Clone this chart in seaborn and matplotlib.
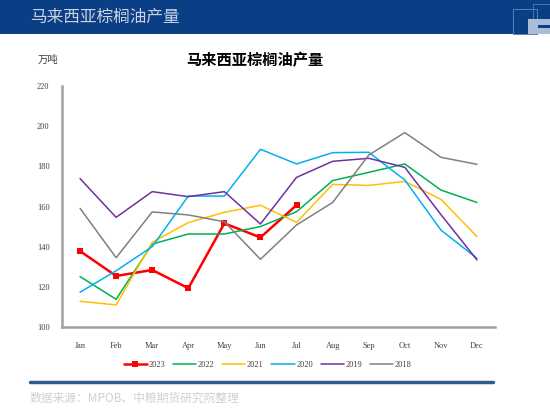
import numpy as np
import pandas as pd
import matplotlib.pyplot as plt
import seaborn as sns
from matplotlib.patches import Rectangle

months = ['Jan', 'Feb', 'Mar', 'Apr', 'May', 'Jun', 'Jul', 'Aug', 'Sep', 'Oct', 'Nov', 'Dec']
years = ['2023', '2022', '2021', '2020', '2019', '2018']

v2023 = [137.8, 125.4, 128.4, 119.3, 151.6, 144.6, 160.7]
v2022 = [125.1, 113.8, 141.3, 146.3, 146.3, 150.0, 157.4, 172.9, 177.0, 181.2, 168.2, 162.0]
v2021 = [112.8, 111.0, 142.2, 152.0, 157.1, 160.6, 152.1, 171.0, 170.5, 172.5, 163.6, 145.0]
v2020 = [117.3, 128.0, 140.0, 165.2, 165.2, 188.5, 181.2, 186.8, 187.0, 173.2, 148.3, 134.2]
v2019 = [173.9, 154.6, 167.4, 164.9, 167.4, 151.3, 174.5, 182.5, 184.0, 179.5, 156.0, 133.4]
v2018 = [159.1, 134.5, 157.3, 155.8, 152.4, 133.7, 150.8, 162.0, 185.6, 196.8, 184.5, 181.0]

colors = {'2023': '#FF0000', '2022': '#00B050', '2021': '#FFC000',
          '2020': '#00B0F0', '2019': '#7030A0', '2018': '#808080'}

rows = []
for y, vals in zip(years, [v2023, v2022, v2021, v2020, v2019, v2018]):
    for i, v in enumerate(vals):
        rows.append({'year': y, 'm': i, 'val': v})
df = pd.DataFrame(rows)

sns.set_style("white")
plt.rcParams['font.family'] = ['Liberation Serif', 'Noto Sans CJK SC', 'DejaVu Sans']
cjk = ['Noto Sans CJK SC', 'DejaVu Sans']

fig = plt.figure(figsize=(5.5, 4.12), dpi=100)

# header band + logo
H = 412.0
W = 550.0
fig.patches.append(Rectangle((0, 1 - 34 / H), 1, 34 / H, transform=fig.transFigure,
                             facecolor='#0b3f85', edgecolor='none', zorder=0))
fig.patches.append(Rectangle((513 / W, 1 - 34 / H), 24 / W, 25 / H, transform=fig.transFigure,
                             facecolor='none', edgecolor='#5a7fb5', lw=0.7, zorder=1))
fig.patches.append(Rectangle((533 / W, 1 - 30 / H), 20 / W, 26 / H, transform=fig.transFigure,
                             facecolor='none', edgecolor='#4d73ab', lw=0.7, zorder=1))
fig.patches.append(Rectangle((528 / W, 1 - 34 / H), 22 / W, 15 / H, transform=fig.transFigure,
                             facecolor='#a9bcd8', edgecolor='none', zorder=2))
fig.patches.append(Rectangle((538 / W, 1 - 28 / H), 12 / W, 3 / H, transform=fig.transFigure,
                             facecolor='#0b3f85', edgecolor='none', zorder=3))
fig.text(30 / W, 1 - 17 / H, '马来西亚棕榈油产量', family=cjk, fontsize=12,
         color='#c9d2e3', va='center', ha='left')

ax = fig.add_axes([62 / W, 1 - 327 / H, 433 / W, 241 / H])

for y in years:
    sub = df[df.year == y]
    if y == '2023':
        sns.lineplot(data=sub, x='m', y='val', ax=ax, color=colors[y], lw=1.8,
                     marker='s', markersize=4, markeredgewidth=0, label=y)
    else:
        sns.lineplot(data=sub, x='m', y='val', ax=ax, color=colors[y], lw=1.1, label=y)

ax.set_xlim(-0.5, 11.5)
ax.set_ylim(100, 220)
ax.set_yticks(np.arange(100, 221, 20))
ax.set_xticks(range(12))
ax.set_xticklabels(months)
ax.set_xticks(np.arange(-0.5, 12, 1), minor=True)
ax.tick_params(axis='x', which='major', length=0, pad=11, labelsize=6, colors='#404040')
ax.tick_params(axis='x', which='minor', length=3, width=1, color='#808080', direction='out')
ax.tick_params(axis='y', length=3, width=1, color='#808080', labelsize=6, colors='#404040', pad=6)
ax.set_xlabel('')
ax.set_ylabel('')
for s in ['top', 'right']:
    ax.spines[s].set_visible(False)
for s in ['left', 'bottom']:
    ax.spines[s].set_color('#a0a0a0')
    ax.spines[s].set_linewidth(1.8)

ax.legend(loc='upper center', bbox_to_anchor=(0.475, -0.11), ncol=6, frameon=False,
          fontsize=6, handlelength=2.8, columnspacing=0.9, handletextpad=0.2,
          labelcolor='#404040')

fig.text(255 / W, 1 - 60 / H, '马来西亚棕榈油产量', family=cjk, fontsize=11,
         fontweight='bold', ha='center', va='center', color='black')
fig.text(38 / W, 1 - 60 / H, '万吨', family=cjk, fontsize=7.5, ha='left', va='center',
         color='#404040')

fig.lines.append(plt.Line2D([30 / W, 493 / W], [1 - 382 / H, 1 - 382 / H],
                            transform=fig.transFigure, color='#2f5a8c', lw=2.5))
fig.text(30 / W, 1 - 398 / H, '数据来源：MPOB、中粮期货研究院整理', family=cjk,
         fontsize=8.5, color='#d0d0d0', ha='left', va='center')

fig.savefig('out.png', dpi=100)
